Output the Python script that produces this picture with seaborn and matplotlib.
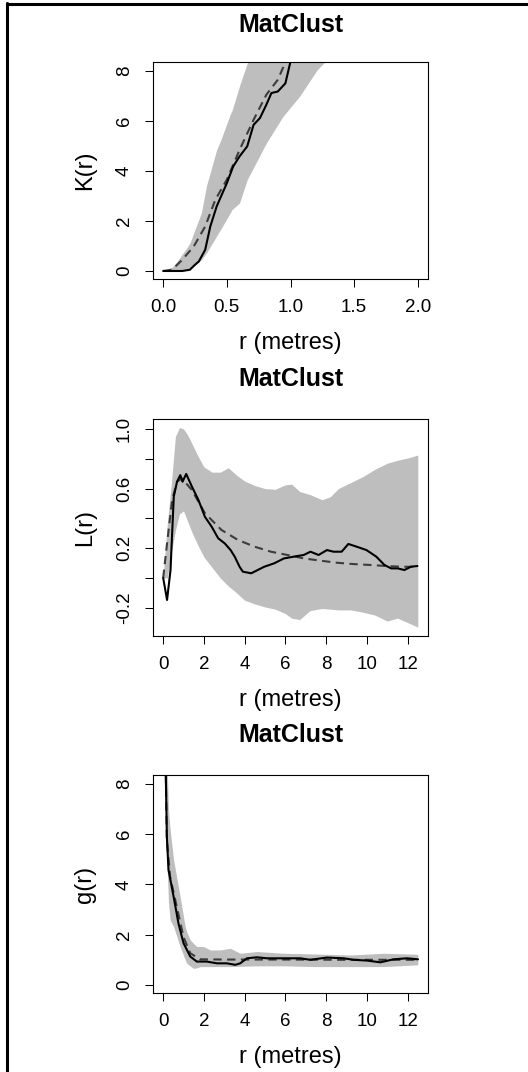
import matplotlib
matplotlib.use("Agg")
import matplotlib.pyplot as plt
import seaborn as sns
from matplotlib.lines import Line2D

# -----------------------------
# Data
# -----------------------------
# K function
k_obs_r = [0, 0.15, 0.21, 0.25, 0.28, 0.33, 0.37, 0.42, 0.50, 0.55, 0.60, 0.66, 0.71, 0.76, 0.81, 0.85, 0.90, 0.96, 1.00, 1.03]
k_obs = [0, 0, 0.05, 0.25, 0.38, 0.85, 1.78, 2.58, 3.51, 4.18, 4.58, 4.98, 5.84, 6.11, 6.64, 7.11, 7.17, 7.5, 8.37, 9.0]
k_theo_r = [0, 0.07, 0.15, 0.24, 0.33, 0.41, 0.50, 0.60, 0.71, 0.81, 0.90, 0.98, 1.02]
k_theo = [0, 0.05, 0.45, 0.98, 1.78, 2.85, 3.65, 4.84, 6.04, 7.04, 7.64, 8.57, 9.0]
k_env_r = [0.00, 0.08, 0.19, 0.21, 0.30, 0.34, 0.42, 0.45, 0.53, 0.54, 0.60, 0.66, 0.81, 0.94, 1.07, 1.21, 1.27, 1.35]
k_hi = [0.00, 0.18, 0.95, 1.12, 2.32, 3.4, 4.84, 5.2, 6.3, 6.4, 7.4, 8.3, 9.5, 9.5, 9.5, 9.5, 9.5, 9.5]
k_lo = [0.00, 0.00, 0.05, 0.08, 0.45, 0.72, 1.4, 1.65, 2.35, 2.45, 2.72, 3.65, 5.11, 6.17, 6.97, 8.04, 8.35, 8.8]

# L function
l_obs_r = [0, 0.19, 0.36, 0.52, 0.68, 0.84, 0.95, 1.13, 1.41, 1.73, 2.05, 2.38, 2.7, 3.02, 3.31, 3.51, 3.75, 3.91,
           4.32, 4.64, 4.96, 5.45, 5.93, 6.42, 6.9, 7.23, 7.63, 8.04, 8.36, 8.76, 9.09, 9.49, 9.98, 10.46, 10.86,
           11.19, 11.51, 11.84, 12.16, 12.48]
l_obs = [0.0, -0.148, 0.053, 0.546, 0.646, 0.69, 0.646, 0.698, 0.613, 0.523, 0.41, 0.344, 0.266, 0.232, 0.187,
         0.143, 0.075, 0.042, 0.031, 0.053, 0.075, 0.098, 0.131, 0.143, 0.154, 0.176, 0.154, 0.187, 0.176, 0.176,
         0.228, 0.21, 0.187, 0.143, 0.087, 0.064, 0.064, 0.053, 0.075, 0.08]
l_theo_r = [0, 0.19, 0.44, 0.68, 0.92, 1.41, 2.05, 2.86, 3.67, 4.48, 5.29, 6.1, 6.9, 7.71, 8.52, 9.33, 10.14,
            10.95, 11.75, 12.48]
l_theo = [0.0, 0.232, 0.523, 0.646, 0.668, 0.59, 0.434, 0.322, 0.255, 0.21, 0.176, 0.154, 0.131, 0.116, 0.102,
          0.093, 0.087, 0.08, 0.075, 0.075]
l_env_r = [0, 0.2, 0.4, 0.6, 0.8, 1.0, 1.2, 1.4, 1.7, 2.0, 2.4, 2.8, 3.2, 3.6, 4.0, 4.5, 5.0, 5.5, 6.0, 6.3, 6.7,
           7.2, 7.8, 8.2, 8.6, 9.2, 9.8, 10.4, 11.0, 11.5, 12.0, 12.5]
l_hi = [0.01, 0.36, 0.63, 0.95, 1.01, 1.0, 0.96, 0.905, 0.82, 0.745, 0.71, 0.71, 0.74, 0.69, 0.65, 0.62, 0.60,
        0.595, 0.625, 0.63, 0.58, 0.56, 0.525, 0.545, 0.60, 0.64, 0.68, 0.73, 0.77, 0.79, 0.805, 0.825]
l_lo = [0.0, 0.0, 0.17, 0.32, 0.43, 0.45, 0.38, 0.31, 0.22, 0.14, 0.07, 0.0, -0.055, -0.10, -0.15, -0.175, -0.195,
        -0.21, -0.24, -0.27, -0.28, -0.22, -0.205, -0.21, -0.215, -0.215, -0.23, -0.25, -0.29, -0.27, -0.30, -0.33]

# pair correlation g
g_obs_r = [0.10, 0.13, 0.18, 0.26, 0.51, 0.75, 1.0, 1.33, 1.65, 2.14, 2.64, 3.13, 3.54, 3.78, 4.11, 4.6, 5.09,
           5.91, 6.73, 7.22, 8.04, 8.86, 9.35, 10.0, 10.66, 11.31, 11.97, 12.51]
g_obs = [10.0, 8.3, 5.9, 4.58, 3.52, 2.45, 1.66, 1.13, 0.93, 0.93, 0.86, 0.86, 0.8, 0.86, 1.06, 1.1, 1.06, 1.06,
         1.06, 1.0, 1.09, 1.06, 1.0, 0.97, 0.9, 1.02, 1.06, 1.02]
g_theo_r = [0.10, 0.13, 0.18, 0.34, 0.67, 1.0, 1.33, 1.82, 3.0, 6.0, 9.0, 12.51]
g_theo = [10.0, 8.3, 5.77, 4.3, 3.1, 1.9, 1.26, 1.02, 1.01, 1.01, 1.0, 1.0]
g_env_r = [0.10, 0.18, 0.26, 0.34, 0.51, 0.83, 1.08, 1.16, 1.33, 1.49, 1.65, 1.82, 1.98, 2.31, 2.8, 3.29, 3.78,
           4.6, 5.91, 7.55, 9.18, 10.82, 12.5]
g_hi = [12.0, 9.0, 6.97, 6.2, 4.98, 3.52, 2.32, 2.1, 1.79, 1.65, 1.53, 1.53, 1.53, 1.39, 1.39, 1.46, 1.26, 1.33,
        1.26, 1.23, 1.19, 1.26, 1.22]
g_lo = [8.4, 5.0, 3.3, 2.59, 2.32, 1.53, 1.0, 0.86, 0.75, 0.66, 0.68, 0.73, 0.73, 0.73, 0.73, 0.73, 0.74, 0.76,
        0.76, 0.73, 0.73, 0.73, 0.8]

panels = [
    ("K(r)", k_obs_r, k_obs, k_theo_r, k_theo, k_env_r, k_lo, k_hi,
     (-0.08, 2.08), (-0.32, 8.35), [0, 0.5, 1.0, 1.5, 2.0], ["0.0", "0.5", "1.0", "1.5", "2.0"],
     [0, 2, 4, 6, 8], ["0", "2", "4", "6", "8"]),
    ("L(r)", l_obs_r, l_obs, l_theo_r, l_theo, l_env_r, l_lo, l_hi,
     (-0.5, 13.0), (-0.39, 1.067), [0, 2, 4, 6, 8, 10, 12], ["0", "2", "4", "6", "8", "10", "12"],
     [-0.2, 0.0, 0.2, 0.4, 0.6, 0.8, 1.0], ["-0.2", "", "0.2", "", "0.6", "", "1.0"]),
    ("g(r)", g_obs_r, g_obs, g_theo_r, g_theo, g_env_r, g_lo, g_hi,
     (-0.5, 13.0), (-0.32, 8.35), [0, 2, 4, 6, 8, 10, 12], ["0", "2", "4", "6", "8", "10", "12"],
     [0, 2, 4, 6, 8], ["0", "2", "4", "6", "8"]),
]

# -----------------------------
# Style
# -----------------------------
sns.set_style("ticks")
plt.rcParams['font.family'] = ['Liberation Sans', 'DejaVu Sans']
plt.rcParams['text.color'] = 'black'
plt.rcParams['axes.labelcolor'] = 'black'
plt.rcParams['xtick.color'] = 'black'
plt.rcParams['ytick.color'] = 'black'

fig = plt.figure(figsize=(5.28, 10.72), dpi=100)

# axes boxes in pixels: (left, top, right, bottom)
boxes = [(153, 62, 428, 279), (153, 419, 428, 636), (153, 775, 428, 993)]
title_y = [25, 379, 735]
W, H = 528, 1072

for (ylab, o_r, o_v, t_r, t_v, e_r, e_lo, e_hi, xl, yl, xt, xtl, yt, ytl), (l, t, r, b), ty in zip(panels, boxes, title_y):
    ax = fig.add_axes([l / W, 1 - b / H, (r - l) / W, (b - t) / H])

    ax.fill_between(e_r, e_lo, e_hi, color="#bebebe", linewidth=0)
    sns.lineplot(x=t_r, y=t_v, ax=ax, color="#3c3c3c", linewidth=1.5,
                 linestyle=(0, (4, 2.6)), estimator=None)
    sns.lineplot(x=o_r, y=o_v, ax=ax, color="black", linewidth=1.5, estimator=None)

    ax.set_xlim(*xl)
    ax.set_ylim(*yl)
    ax.set_xticks(xt)
    ax.set_xticklabels(xtl)
    ax.set_yticks(yt)
    ax.set_yticklabels(ytl, rotation=90, va="center")

    for s in ax.spines.values():
        s.set_linewidth(0.8)
        s.set_color("black")
    ax.tick_params(direction="out", length=5.5, width=0.75, labelsize=13.5, pad=9,
                   colors="black", labelcolor="black")

    ax.set_xlabel("r (metres)", fontsize=17, va="center", color="black")
    ax.xaxis.set_label_coords(0.5, -64 / (b - t))
    ax.set_ylabel(ylab, fontsize=17, va="center", color="black")
    ax.yaxis.set_label_coords((85 - l) / (r - l), 0.5)

    fig.text((l + r) / 2 / W, 1 - ty / H, "MatClust", ha="center", va="center",
             fontsize=18, fontweight="bold", color="black")

# frame on the left and top edges
fig.add_artist(Line2D([6.5 / W, 6.5 / W], [0, 1 - 3 / H], color="black", linewidth=2.2))
fig.add_artist(Line2D([6.5 / W, 1], [1 - 3.5 / H, 1 - 3.5 / H], color="black", linewidth=2.2))

fig.savefig("out.png", dpi=100)
